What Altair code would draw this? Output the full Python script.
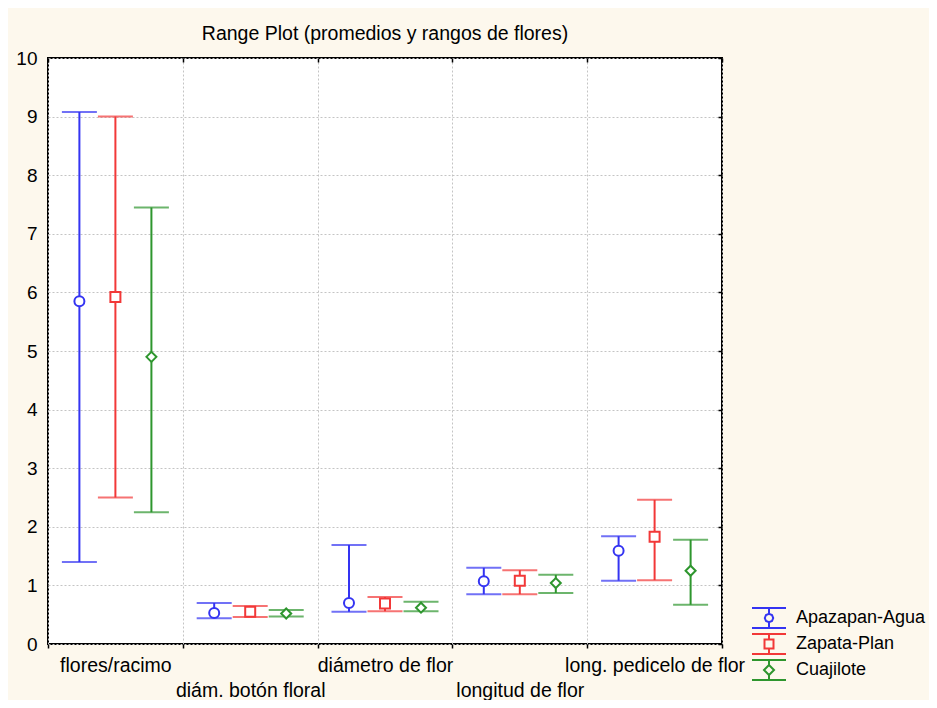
import altair as alt
import pandas as pd

categorias = ["flores/racimo", "diám. botón floral", "diámetro de flor",
              "longitud de flor", "long. pedicelo de flor"]
series = ["Apazapan-Agua", "Zapata-Plan", "Cuajilote"]
colores = ["#3434F2", "#F23838", "#2E962E"]
formas = ["circle", "square", "diamond"]

medias = {
    "Apazapan-Agua": [5.85, 0.53, 0.70, 1.07, 1.59],
    "Zapata-Plan":   [5.92, 0.55, 0.69, 1.08, 1.83],
    "Cuajilote":     [4.90, 0.52, 0.62, 1.04, 1.25],
}
minimos = {
    "Apazapan-Agua": [1.40, 0.44, 0.55, 0.85, 1.08],
    "Zapata-Plan":   [2.50, 0.46, 0.56, 0.85, 1.09],
    "Cuajilote":     [2.25, 0.47, 0.56, 0.87, 0.67],
}
maximos = {
    "Apazapan-Agua": [9.08, 0.70, 1.69, 1.30, 1.84],
    "Zapata-Plan":   [9.00, 0.65, 0.80, 1.26, 2.46],
    "Cuajilote":     [7.45, 0.58, 0.72, 1.18, 1.78],
}

rows = []
for s in series:
    for i, c in enumerate(categorias):
        rows.append({"categoria": c, "serie": s, "media": medias[s][i],
                     "minimo": minimos[s][i], "maximo": maximos[s][i]})
df = pd.DataFrame(rows)

FONT = "Liberation Sans"
GRID = "#c4c4c4"

# legend glyphs: cap lines + marker (unit box = 20px, x spans -1.7..1.7)
leg_paths = [
    "M-1.7,-1L1.7,-1M0,-1L0,-0.42M-1.7,1L1.7,1M0,1L0,0.42"
    "M-0.42,0L-0.3,-0.3L0,-0.42L0.3,-0.3L0.42,0L0.3,0.3L0,0.42L-0.3,0.3Z",
    "M-1.7,-1L1.7,-1M0,-1L0,-0.45M-1.7,1L1.7,1M0,1L0,0.45"
    "M-0.45,-0.45L0.45,-0.45L0.45,0.45L-0.45,0.45Z",
    "M-1.7,-1L1.7,-1M0,-1L0,-0.5M-1.7,1L1.7,1M0,1L0,0.5"
    "M0,-0.5L0.5,0L0,0.5L-0.5,0Z",
]

x_enc = alt.X("categoria:N", sort=categorias,
              scale=alt.Scale(paddingInner=0, paddingOuter=0),
              axis=alt.Axis(title=None, labelAngle=0, tickBand="extent", grid=True,
                            gridDash=[2, 2], gridColor=GRID, domain=False,
                            ticks=True, tickSize=4, tickColor="#000", tickWidth=1.5,
                            labelFont=FONT, labelFontSize=19.5, labelColor="#000",
                            labelPadding=8, labelLineHeight=25,
                            labelExpr="indexof(['diám. botón floral','longitud de flor'], datum.value) >= 0 ? ['', datum.label] : datum.label"))
xo_enc = alt.XOffset("serie:N", sort=series,
                     scale=alt.Scale(domain=series, paddingInner=0, paddingOuter=0.372))
y_scale = alt.Scale(domain=[0, 10], nice=False)
y_axis = alt.Axis(title=None, values=list(range(11)), format="d", grid=True,
                  gridDash=[2, 2], gridColor=GRID, domain=False, ticks=False,
                  labelFont=FONT, labelFontSize=19, labelColor="#000", labelPadding=11)

base = alt.Chart(df)

layers = []
for k, (s, col, f) in enumerate(zip(series, colores, formas)):
    b = base.transform_filter(alt.datum.serie == s)
    y_first = (alt.Y("minimo:Q", scale=y_scale, axis=y_axis) if k == 0
               else alt.Y("minimo:Q", scale=y_scale))
    layers.append(b.mark_rule(strokeWidth=2, color=col).encode(
        x=x_enc, xOffset=xo_enc, y=y_first, y2="maximo:Q"))
    layers.append(b.mark_tick(thickness=2, size=35, color=col).encode(
        x=x_enc, xOffset=xo_enc, y=alt.Y("minimo:Q", scale=y_scale)))
    layers.append(b.mark_tick(thickness=2, size=35, color=col).encode(
        x=x_enc, xOffset=xo_enc, y=alt.Y("maximo:Q", scale=y_scale)))
for s, col, f in zip(series, colores, formas):
    b = base.transform_filter(alt.datum.serie == s)
    layers.append(b.mark_point(shape=f, filled=False, fill="white", color=col,
                               strokeWidth=2, size=100, opacity=1).encode(
        x=x_enc, xOffset=xo_enc, y=alt.Y("media:Q", scale=y_scale)))

leg_props = dict(title=None, orient="none", legendX=710, legendY=549,
                 labelFont=FONT, labelFontSize=18, labelColor="#000",
                 symbolSize=400, symbolStrokeWidth=2, symbolOpacity=1,
                 symbolFillColor="transparent", rowPadding=-2, labelOffset=16,
                 padding=0)
legend_layer = base.mark_point(opacity=0, filled=False).encode(
    x=x_enc, xOffset=xo_enc, y=alt.Y("media:Q", scale=y_scale),
    color=alt.Color("serie:N", sort=series,
                    scale=alt.Scale(domain=series, range=colores),
                    legend=alt.Legend(**leg_props)),
    shape=alt.Shape("serie:N", sort=series,
                    scale=alt.Scale(domain=series, range=leg_paths),
                    legend=alt.Legend(**leg_props)))
layers.append(legend_layer)

main = alt.layer(*layers)

# inner ticks on the right and top edges of the frame
edge_ticks = base.mark_rule(opacity=0).encode(
    x=alt.X("categoria:N", sort=categorias,
            scale=alt.Scale(paddingInner=0, paddingOuter=0),
            axis=alt.Axis(orient="bottom", offset=-586, labels=False, grid=False,
                          domain=False, tickBand="extent", tickSize=4,
                          tickColor="#000", tickWidth=1.5, title=None)),
    y=alt.Y("minimo:Q", scale=y_scale,
            axis=alt.Axis(orient="left", offset=-674, labels=False, grid=False,
                          domain=False, values=list(range(11)), tickSize=4,
                          tickColor="#000", tickWidth=1.5, title=None)),
    y2="maximo:Q")

chart = alt.layer(main, edge_ticks).resolve_scale(
    x="independent", y="independent"
).properties(
    width=674, height=586,
    autosize=alt.AutoSizeParams(type="none"),
    padding={"left": 40, "top": 50, "right": 207, "bottom": 56},
    background="#fdf8ed",
    title=alt.Title("Range Plot (promedios y rangos de flores)", font=FONT,
                    fontSize=19.5, fontWeight="normal", color="#000",
                    anchor="middle", offset=5),
).configure_view(stroke="#000", strokeWidth=2, fill="white")

chart.save("out.html", embed_options={"renderer": "svg", "actions": False})
